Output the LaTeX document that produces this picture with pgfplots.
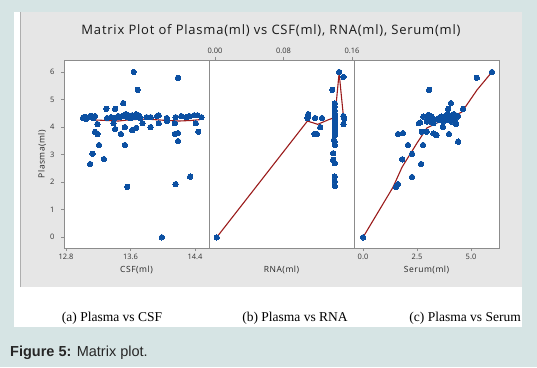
\documentclass[border=0pt]{standalone}
\usepackage{fontspec}
\usepackage{pgfplots}
\pgfplotsset{compat=1.18}
\setmainfont{Liberation Serif}
\newfontfamily\mtb{Open Sans}
\newfontfamily\mtbsp[LetterSpace=6]{Open Sans}
\newfontfamily\arial{Liberation Sans}
\definecolor{bgteal}{RGB}{214,228,228}
\definecolor{panelgray}{RGB}{230,230,230}
\definecolor{axisgray}{RGB}{140,140,140}
\definecolor{tickgray}{RGB}{50,50,50}
\definecolor{ptblue}{RGB}{12,80,162}
\definecolor{lnred}{RGB}{155,28,28}
\pgfplotsset{
  mtb/.style={scale only axis, width=145pt, height=188pt, anchor=south west,
    ymin=-0.388, ymax=6.435,
    axis line style={draw=axisgray, line width=0.8pt},
    tick style={draw=axisgray, line width=0.6pt},
    major tick length=3pt, tick align=outside,
    ticklabel style={font=\mtb\fontsize{7.5}{8.5}\selectfont, text=tickgray},
    axis background/.style={fill=white}},
  pts/.style={only marks, mark=*, mark size=2.7pt, mark options={fill=ptblue, draw=ptblue, line width=0pt}},
  lws/.style={no marks, draw=lnred, line width=1.1pt}
}
\begin{document}
\begin{tikzpicture}
\useasboundingbox (0,0) rectangle (537pt,367pt);
\fill[bgteal] (0,0) rectangle (537pt,367pt);
\fill[white] (14pt,40pt) rectangle (522pt,355pt);
\fill[panelgray] (20pt,80pt) rectangle (522pt,355pt);
\draw[axisgray!70, line width=0.6pt] (20.3pt,80pt) -- (20.3pt,355pt);

% Panel 1: CSF
\begin{axis}[mtb, at={(64pt,119pt)}, xmin=12.775, xmax=14.574,
  xtick={12.8,13.6,14.4}, xticklabels={12.8,13.6,14.4}, xtick pos=left,
  ytick={0,1,2,3,4,5,6}, yticklabels={0,1,2,3,4,5,6}, ytick pos=left,
  yticklabel style={xshift=-3pt}]
\addplot[lws] coordinates {(13.14,4.26) (13.3,4.24) (13.45,4.22) (13.6,4.27) (13.8,4.29) (14.0,4.25) (14.2,4.22) (14.35,4.24) (14.46,4.27)};
\addplot[pts] coordinates {
(13.01,4.33) (13.02,4.36) (13.05,4.36) (13.09,4.36) (13.12,4.40) (13.16,4.40) (13.10,4.40)
(13.31,4.33) (13.40,4.33) (13.43,4.36) (13.47,4.36) (13.54,4.47) (13.56,4.36) (13.62,4.43)
(13.67,4.47) (13.70,4.43) (13.30,4.66) (13.41,4.66) (13.51,4.87) (13.64,6.00) (13.69,5.35)
(14.19,5.79) (13.19,4.11) (13.41,3.93) (13.53,4.00) (13.48,3.75) (13.62,3.89) (13.16,3.83)
(13.19,3.75) (13.21,3.35) (13.13,3.03) (13.27,2.84) (13.10,2.66) (13.53,3.35) (13.39,4.14)
(13.56,1.83) (13.99,0.00) (14.16,1.93) (14.34,2.20) (13.71,4.40) (13.80,4.36) (13.85,4.36)
(13.93,4.40) (13.95,4.43) (14.05,4.33) (14.16,4.36) (14.23,4.40) (14.29,4.36) (14.33,4.40)
(14.39,4.43) (14.43,4.43) (14.48,4.36) (13.75,4.14) (13.85,4.00) (13.95,4.14) (14.05,4.22)
(14.15,4.14) (14.15,3.75) (14.19,3.78) (14.19,3.49) (14.41,4.14) (14.44,3.83) (13.67,3.97)
(13.50,4.40) (13.58,4.42) (13.60,4.33) (13.65,4.36) (13.72,4.33) (13.45,4.40) (13.36,4.36)
(13.05,4.30) (13.14,4.33)};
\end{axis}

% Panel 2: RNA
\begin{axis}[mtb, at={(209pt,119pt)}, xmin=-0.007, xmax=0.1624,
  xtick={0,0.08,0.16}, xticklabels={0.00,0.08,0.16}, xtick pos=right, xticklabel pos=right,
  ytick=\empty]
\addplot[lws] coordinates {(0.002,0.0) (0.108,4.22) (0.120,4.10) (0.132,4.26) (0.140,4.35) (0.145,5.96) (0.150,4.40)};
\addplot[pts] coordinates {
(0.002,0.00) (0.109,4.47) (0.108,4.33) (0.116,3.75) (0.119,3.75) (0.117,4.33) (0.125,4.33)
(0.123,4.00) (0.137,5.35) (0.145,6.00) (0.150,5.82) (0.150,4.40) (0.150,4.11) (0.151,4.30)
(0.138,2.81) (0.138,3.05)
(0.140,4.86) (0.140,4.74) (0.140,4.60) (0.140,4.50) (0.140,4.44) (0.140,4.40) (0.140,4.36)
(0.140,4.33) (0.140,4.30) (0.140,4.26) (0.140,4.20) (0.140,4.14) (0.140,4.07) (0.140,4.01)
(0.140,3.95) (0.140,3.89) (0.140,3.83) (0.140,3.75) (0.140,3.70) (0.139,3.53) (0.140,3.47)
(0.140,3.35) (0.140,2.69) (0.140,2.20) (0.140,2.02) (0.140,1.86)};
\end{axis}

% Panel 3: Serum
\begin{axis}[mtb, at={(354pt,119pt)}, xmin=-0.417, xmax=6.296,
  xtick={0,2.5,5}, xticklabels={0.0,2.5,5.0}, xtick pos=left,
  ytick=\empty]
\addplot[lws] coordinates {(0,0) (1.39,1.82) (1.81,2.55) (2.5,3.42) (2.96,3.97) (3.43,4.15) (4.03,4.33) (4.58,4.55) (5.28,5.35) (5.97,6.0)};
\addplot[pts] coordinates {
(0.00,0.00) (5.97,6.00) (5.27,5.79) (3.06,5.35) (4.07,4.87) (3.94,4.66) (4.63,4.66)
(2.79,4.38) (3.02,4.44) (3.18,4.38) (2.95,4.20) (3.10,4.20) (2.64,4.16) (3.26,4.14)
(3.49,4.32) (3.64,4.38) (3.80,4.40) (3.86,4.35) (4.09,4.40) (4.26,4.44) (4.34,4.35)
(3.87,4.26) (3.72,4.20) (4.09,4.20) (4.30,4.14) (2.72,3.83) (2.95,3.83) (3.26,3.77)
(3.41,3.71) (4.31,4.11) (3.98,3.75) (4.40,3.47) (3.70,4.01) (1.62,3.75) (1.85,3.78)
(2.08,3.35) (2.78,3.35) (2.27,3.03) (1.81,2.83) (2.69,2.66) (2.27,2.19) (1.62,1.93)
(1.53,1.83) (2.59,4.14) (3.00,4.33) (3.30,4.28) (3.55,4.25) (4.15,4.30) (4.40,4.40)
(4.20,4.47) (3.90,4.46)};
\end{axis}

% Texts
\node[font=\mtbsp\fontsize{13}{15}\selectfont, text=black!90] at (271pt,336pt) {Matrix Plot of Plasma(ml) vs CSF(ml), RNA(ml), Serum(ml)};
\node[font=\mtbsp\fontsize{8.5}{10}\selectfont, text=black!85, rotate=90] at (42pt,213pt) {Plasma(ml)};
\node[font=\mtbsp\fontsize{8.5}{10}\selectfont, text=black!85] at (136.5pt,97pt) {CSF(ml)};
\node[font=\mtbsp\fontsize{8.5}{10}\selectfont, text=black!85] at (281.5pt,97pt) {RNA(ml)};
\node[font=\mtbsp\fontsize{8.5}{10}\selectfont, text=black!85] at (426.5pt,97pt) {Serum(ml)};
\node[font=\fontsize{13.5}{15}\selectfont] at (112pt,49pt) {(a) Plasma vs CSF};
\node[font=\fontsize{13.5}{15}\selectfont] at (295pt,49pt) {(b) Plasma vs RNA};
\node[font=\fontsize{13.5}{15}\selectfont, anchor=east, inner xsep=0pt] at (521pt,49pt) {(c) Plasma vs Serum};
\node[font=\arial\fontsize{14.5}{16}\selectfont, anchor=west, inner xsep=0pt, text=black!85] at (10pt,14pt) {\textbf{Figure 5:} Matrix plot.};
\end{tikzpicture}
\end{document}
